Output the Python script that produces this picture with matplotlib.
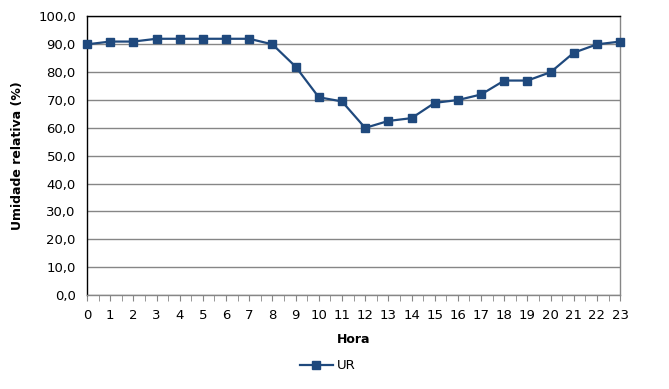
import matplotlib
matplotlib.use("Agg")
import matplotlib.pyplot as plt
from matplotlib.ticker import MultipleLocator, FuncFormatter

horas = list(range(24))
ur = [90, 91, 91, 92, 92, 92, 92, 92, 90, 82, 71, 69.5, 60, 62.5, 63.5, 69,
      70, 72, 77, 77, 80, 87, 90, 91]

color = "#1F497D"
grid_c = "#868686"

fig = plt.figure(figsize=(6.69, 3.89), dpi=100)
ax = fig.add_axes([0.130, 0.2416, 0.797, 0.716])

ax.plot(horas, ur, color=color, lw=1.6, marker="s", ms=6, clip_on=False,
        zorder=3, label="UR")

ax.set_xlim(0, 23)
ax.set_ylim(0, 100)
ax.yaxis.set_major_locator(MultipleLocator(10))
ax.yaxis.set_major_formatter(FuncFormatter(lambda v, p: f"{v:.1f}".replace(".", ",")))
ax.set_xticks(horas)
ax.xaxis.set_minor_locator(MultipleLocator(0.5))
ax.grid(axis="y", color=grid_c, lw=1)
ax.set_axisbelow(True)

for s in ["left", "top"]:
    ax.spines[s].set_color("black")
    ax.spines[s].set_linewidth(1)
for s in ["right", "bottom"]:
    ax.spines[s].set_color(grid_c)
    ax.spines[s].set_linewidth(1)

ax.tick_params(axis="y", length=0, labelsize=9.5, pad=8)
ax.tick_params(axis="x", which="both", length=4, color=grid_c, labelsize=9.5, pad=6)

ax.set_xlabel("Hora", fontsize=9, fontweight="bold", labelpad=8)
ax.set_ylabel("Umidade relativa (%)", fontsize=9, fontweight="bold", labelpad=10)

leg = fig.legend(loc="center", bbox_to_anchor=(0.49, 0.06), frameon=False,
                 fontsize=9.5, handlelength=2.5, handletextpad=0.3)

fig.savefig("out.png", dpi=100)
